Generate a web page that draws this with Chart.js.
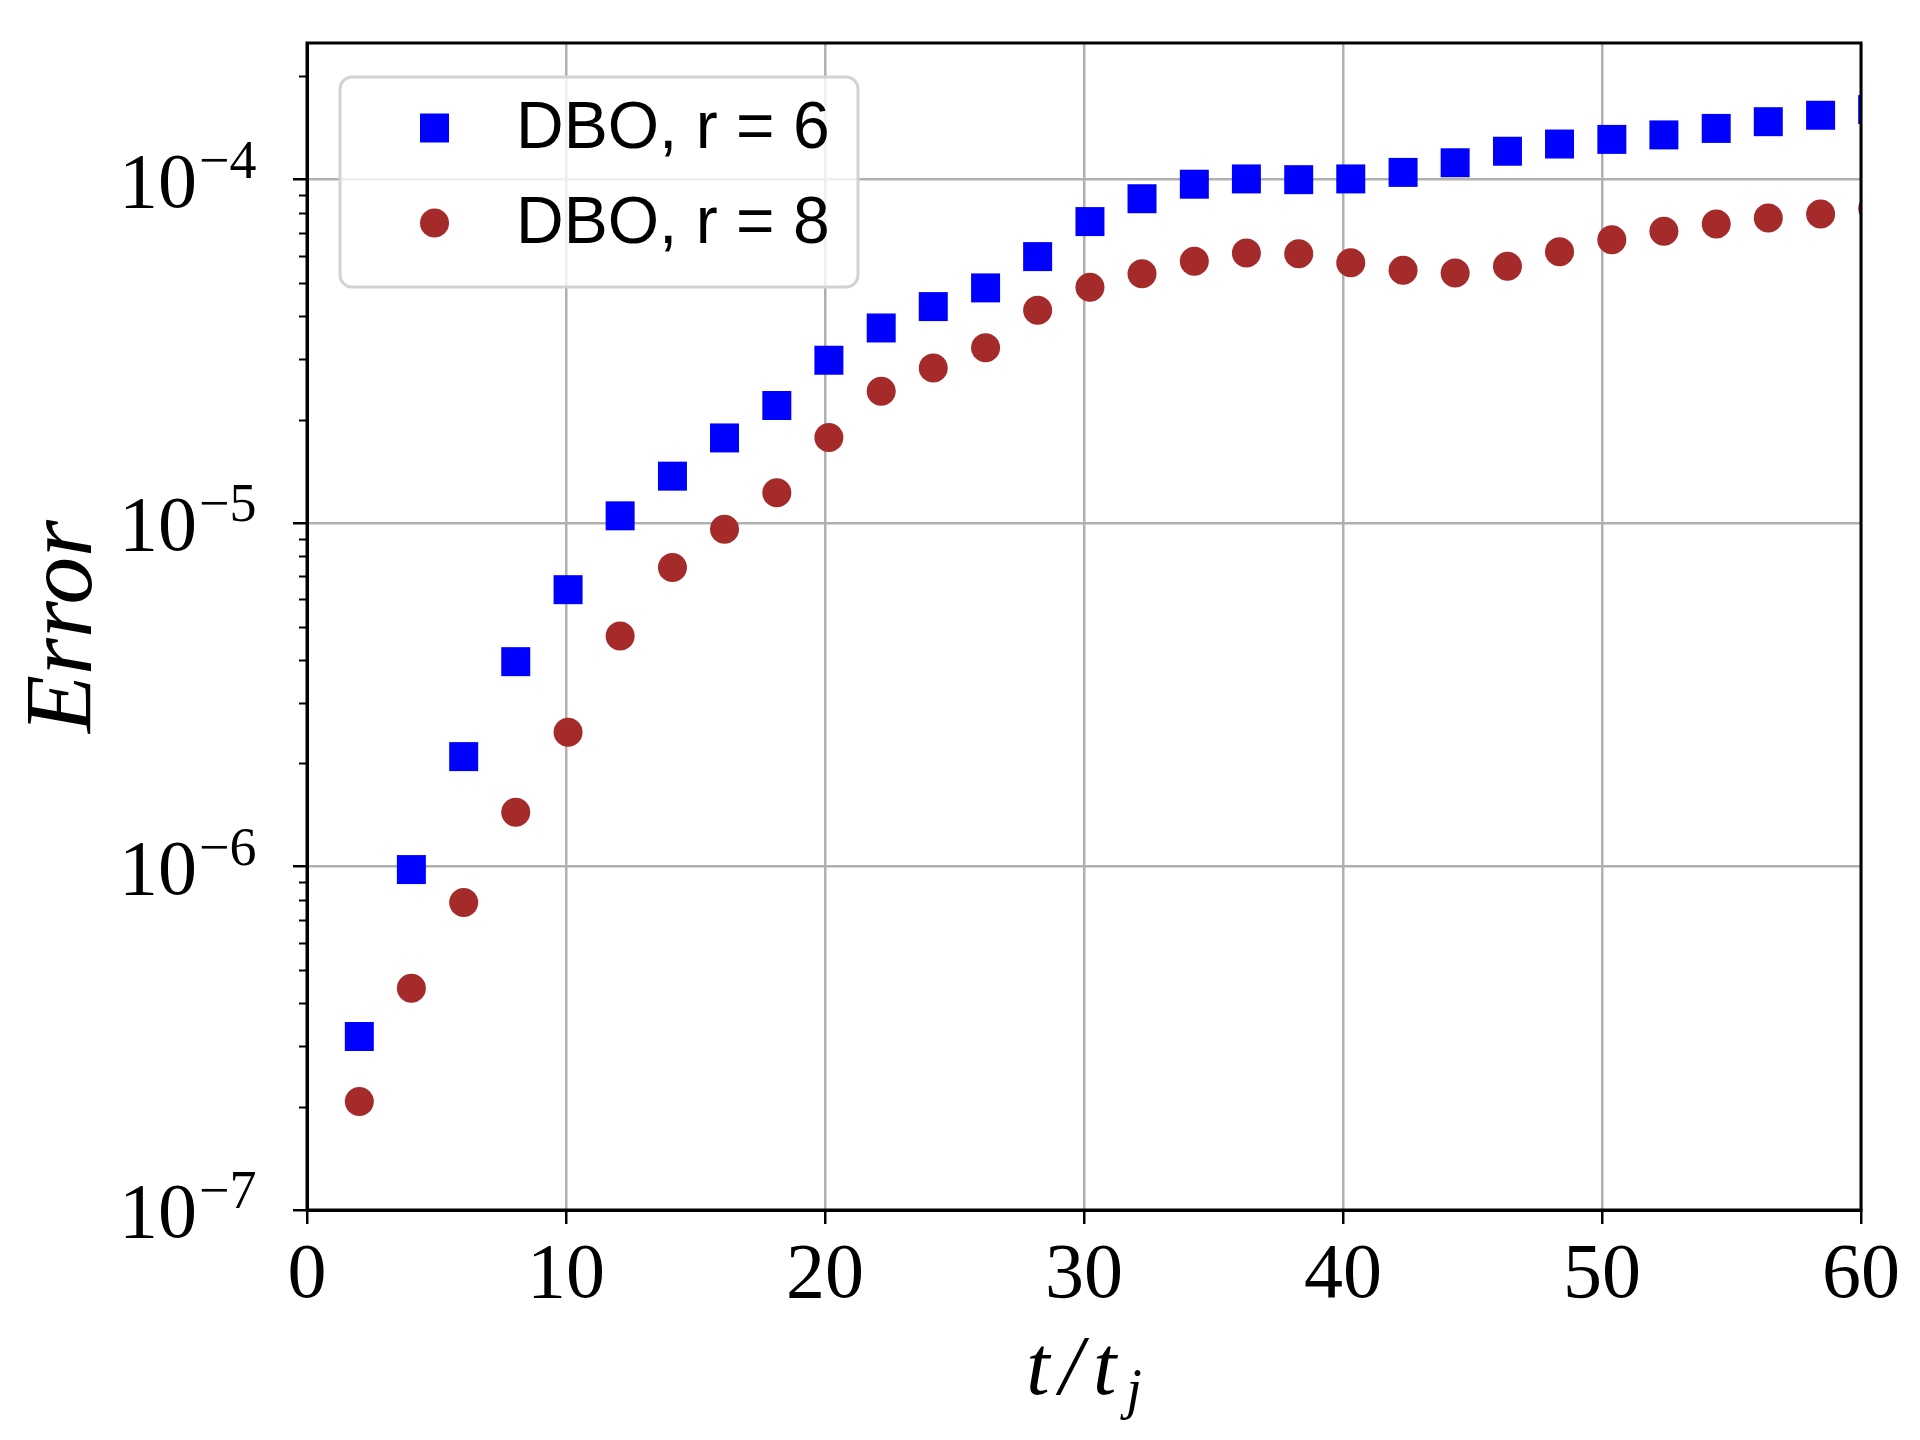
<!DOCTYPE html>
<html>
<head>
<meta charset="utf-8">
<script src="https://cdn.jsdelivr.net/npm/chart.js@4/dist/chart.umd.min.js"></script>
<style>
  html, body { margin: 0; padding: 0; background: #fff; }
  #errChart { display: block; }
</style>
</head>
<body>
<canvas id="errChart" width="1920" height="1440"></canvas>
<script>
// values
var times = [2.02, 4.03, 6.05, 8.06, 10.08, 12.09, 14.11, 16.12, 18.14, 20.15,
             22.17, 24.18, 26.2, 28.21, 30.23, 32.24, 34.26, 36.27, 38.29, 40.3,
             42.32, 44.33, 46.35, 48.36, 50.38, 52.39, 54.41, 56.42, 58.44, 60.45];

var errR6 = [3.2e-7, 9.8e-7, 2.09e-6, 3.95e-6, 6.4e-6, 1.05e-5, 1.37e-5, 1.77e-5, 2.2e-5, 2.98e-5,
             3.7e-5, 4.27e-5, 4.84e-5, 5.97e-5, 7.55e-5, 8.8e-5, 9.7e-5, 1.005e-4, 1.0e-4, 1.005e-4,
             1.05e-4, 1.12e-4, 1.21e-4, 1.27e-4, 1.31e-4, 1.35e-4, 1.41e-4, 1.475e-4, 1.54e-4, 1.6e-4];

var errR8 = [2.07e-7, 4.42e-7, 7.86e-7, 1.44e-6, 2.46e-6, 4.69e-6, 7.43e-6, 9.6e-6, 1.225e-5, 1.775e-5,
             2.42e-5, 2.83e-5, 3.24e-5, 4.17e-5, 4.86e-5, 5.32e-5, 5.79e-5, 6.12e-5, 6.09e-5, 5.73e-5,
             5.45e-5, 5.35e-5, 5.6e-5, 6.17e-5, 6.68e-5, 7.08e-5, 7.43e-5, 7.74e-5, 7.94e-5, 8.24e-5];

var seriesLabels = ["DBO, r = 6", "DBO, r = 8"];
var xTicks = [0, 10, 20, 30, 40, 50, 60];
var yMin = 1e-7, yMax = 2.5e-4;

function toPoints(ys) {
  var pts = [];
  for (var i = 0; i < times.length; i++) pts.push({x: times[i], y: ys[i]});
  return pts;
}

function isDecade(v) {
  var l = Math.log10(v);
  return Math.abs(l - Math.round(l)) < 1e-6;
}

// frame, minor ticks, y labels with exponents, x title, legend
var decorPlugin = {
  id: 'decor',
  afterDatasetsDraw: function(chart) {
    var ctx = chart.ctx, a = chart.chartArea, ys = chart.scales.y;
    ctx.save();
    ctx.strokeStyle = '#000';
    ctx.lineWidth = 3;
    ctx.strokeRect(a.left, a.top, a.right - a.left, a.bottom - a.top);

    // minor ticks on the log axis
    ctx.lineWidth = 2;
    ys.ticks.forEach(function(t) {
      if (isDecade(t.value)) return;
      var sig = t.value / Math.pow(10, Math.floor(Math.log10(t.value) + 1e-9));
      if (Math.abs(sig - Math.round(sig)) > 1e-6) return;
      var py = Math.round(ys.getPixelForValue(t.value)) + 0.5;
      ctx.beginPath();
      ctx.moveTo(a.left - 8, py);
      ctx.lineTo(a.left, py);
      ctx.stroke();
    });

    // decade labels 10^n
    ctx.fillStyle = '#000';
    ctx.textBaseline = 'alphabetic';
    ys.ticks.forEach(function(t) {
      if (!isDecade(t.value)) return;
      var py = ys.getPixelForValue(t.value);
      var ex = Math.round(Math.log10(t.value));
      ctx.font = '78px "Liberation Serif", serif';
      ctx.textAlign = 'right';
      ctx.fillText('10', 197, py + 27);
      ctx.font = '54px "Liberation Serif", serif';
      ctx.textAlign = 'left';
      ctx.fillText('\u2212' + Math.abs(ex), 199, py - 2);
    });

    // x title t/t_j
    var cx = (a.left + a.right) / 2;
    ctx.font = 'italic 84px "Liberation Serif", serif';
    ctx.letterSpacing = '10px';
    var main = 't/t';
    var w1 = ctx.measureText(main).width;
    ctx.font = 'italic 56px "Liberation Serif", serif';
    ctx.letterSpacing = '0px';
    var w2 = ctx.measureText('j').width;
    var x0 = cx - (w1 + w2) / 2;
    ctx.textAlign = 'left';
    ctx.font = 'italic 84px "Liberation Serif", serif';
    ctx.letterSpacing = '10px';
    ctx.fillText(main, x0, 1394);
    ctx.letterSpacing = '0px';
    ctx.font = 'italic 56px "Liberation Serif", serif';
    ctx.fillText('j', x0 + w1, 1408);
    ctx.restore();
  },
  afterDraw: function(chart) {
    var ctx = chart.ctx;
    ctx.save();
    ctx.beginPath();
    ctx.roundRect(340, 77, 518, 210, 12);
    ctx.fillStyle = 'rgba(255,255,255,0.8)';
    ctx.fill();
    ctx.strokeStyle = '#d2d2d2';
    ctx.lineWidth = 3;
    ctx.stroke();

    var rows = [128, 223];
    chart.data.datasets.forEach(function(ds, i) {
      var y = rows[i];
      ctx.fillStyle = ds.backgroundColor;
      if (ds.pointStyle === 'rect') {
        ctx.fillRect(420, y - 14.5, 29, 29);
      } else {
        ctx.beginPath();
        ctx.arc(434.5, y, 14.5, 0, Math.PI * 2);
        ctx.fill();
      }
      ctx.fillStyle = '#000';
      ctx.font = '66px "Liberation Sans", sans-serif';
      ctx.textAlign = 'left';
      ctx.textBaseline = 'middle';
      ctx.fillText(ds.label, 516, y + 2);
    });
    ctx.restore();
  }
};

var canvasErr = document.getElementById("errChart");
var errChart = new Chart(canvasErr, {
  type: 'scatter',
  data: {
    datasets: [
      {
        label: seriesLabels[0],
        data: toPoints(errR6),
        pointStyle: 'rect',
        pointRadius: 20.5,
        pointHoverRadius: 20.5,
        backgroundColor: '#0000ff',
        borderWidth: 0,
        clip: 0
      },
      {
        label: seriesLabels[1],
        data: toPoints(errR8),
        pointStyle: 'circle',
        pointRadius: 14.5,
        pointHoverRadius: 14.5,
        backgroundColor: '#a52a2a',
        borderWidth: 0,
        clip: 0
      }
    ]
  },
  options: {
    responsive: false,
    devicePixelRatio: 1,
    animation: false,
    layout: { padding: { left: 0, top: 43, right: 59, bottom: 0 } },
    plugins: {
      legend: { display: false },
      tooltip: { enabled: false }
    },
    scales: {
      x: {
        type: 'linear',
        min: xTicks[0],
        max: xTicks[xTicks.length - 1],
        afterBuildTicks: function(scale) {
          scale.ticks = xTicks.map(function(v) { return {value: v}; });
        },
        afterFit: function(scale) { scale.height = 230; },
        grid: { color: '#b0b0b0', lineWidth: 2.5, tickColor: '#000', tickLength: 14 },
        border: { color: '#000', width: 3 },
        ticks: {
          color: '#000',
          padding: 6,
          maxRotation: 0,
          font: { family: '"Liberation Serif", serif', size: 78 }
        }
      },
      y: {
        type: 'logarithmic',
        min: yMin,
        max: yMax,
        afterFit: function(scale) { scale.width = 307; },
        grid: {
          lineWidth: 2.5,
          tickLength: 14,
          color: function(c) { return c.tick && isDecade(c.tick.value) ? '#b0b0b0' : 'rgba(0,0,0,0)'; },
          tickColor: function(c) { return c.tick && isDecade(c.tick.value) ? '#000' : 'rgba(0,0,0,0)'; }
        },
        border: { color: '#000', width: 3 },
        ticks: { display: false },
        title: {
          display: true,
          text: 'Error',
          color: '#000',
          padding: { top: 9, bottom: 0 },
          font: { family: '"Liberation Serif", serif', style: 'italic', size: 95 }
        }
      }
    }
  },
  plugins: [decorPlugin]
});
</script>
</body>
</html>
